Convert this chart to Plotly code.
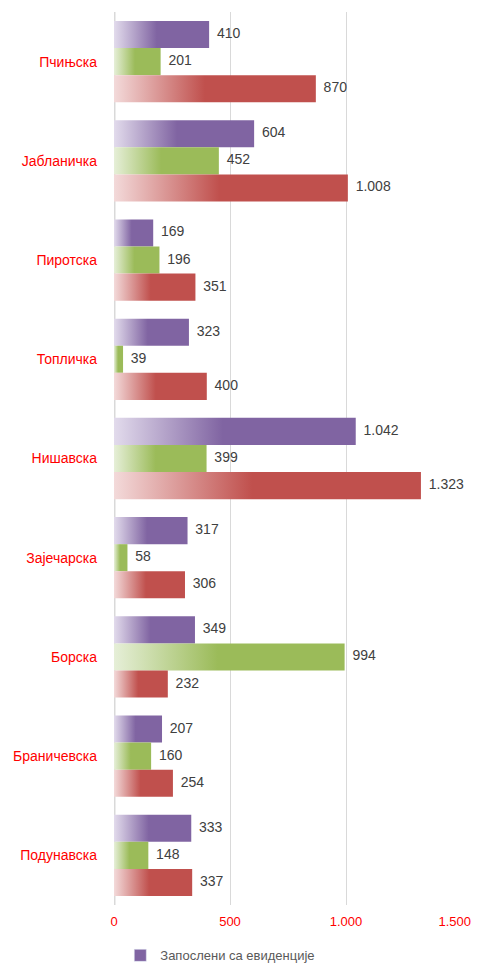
import plotly.graph_objects as go

# categories, top to bottom
regions = ['Пчињска', 'Јабланичка', 'Пиротска', 'Топличка', 'Нишавска',
           'Зајечарска', 'Борска', 'Браничевска', 'Подунавска']

# purple series (the only one named in the legend)
zaposleni_sa_evidencije = [410, 604, 169, 323, 1042, 317, 349, 207, 333]
# green series
serija_2 = [201, 452, 196, 39, 399, 58, 994, 160, 148]
# red series
serija_3 = [870, 1008, 351, 400, 1323, 306, 232, 254, 337]

x_ticks = [0, 500, 1000, 1500]
x_tick_labels = ['0', '500', '1.000', '1.500']

series = [
    ('Запослени са евиденције', zaposleni_sa_evidencije, '#e2dbec', '#8064a2', True),
    ('Серија 2', serija_2, '#e6efd8', '#9bbb59', False),
    ('Серија 3', serija_3, '#f3dada', '#c0504d', False),
]

FONT = 'Liberation Sans, Arial, sans-serif'
bar_h = 0.273
fig = go.Figure()

for k, (name, vals, light, solid, in_legend) in enumerate(series):
    offset = (k - 1) * bar_h
    for i, v in enumerate(vals):
        y0 = i + offset - bar_h / 2
        y1 = i + offset + bar_h / 2
        # each bar as a filled polygon so it can carry a left-to-right gradient
        fig.add_trace(go.Scatter(
            x=[0, v, v, 0, 0], y=[y0, y0, y1, y1, y0],
            mode='lines', fill='toself',
            line=dict(width=0, color=solid),
            fillgradient=dict(type='horizontal',
                              colorscale=[[0, light], [0.45, solid], [1, solid]]),
            showlegend=False, hoverinfo='skip'
        ))
    # value labels
    fig.add_trace(go.Scatter(
        x=vals, y=[i + offset for i in range(len(vals))],
        mode='text', texttemplate='  %{x:,.0f}', textposition='middle right',
        textfont=dict(size=14, color='#404040'), cliponaxis=False,
        showlegend=False, hoverinfo='skip'
    ))
    if in_legend:
        fig.add_trace(go.Bar(x=[None], y=[None], name=name, marker_color=solid,
                             orientation='h', showlegend=True))

# last tick label nudged left (padding) so it stays inside the page
tick_text = x_tick_labels[:-1] + [x_tick_labels[-1] + '\u00a0' * 4]

# page has an 8px body margin, so the figure is a bit smaller than the window
fig.update_layout(
    width=464, height=956,
    margin=dict(l=106, r=10, t=4, b=59, autoexpand=False),
    plot_bgcolor='white', paper_bgcolor='white',
    separators=',.',
    font=dict(family=FONT, size=14),
    legend=dict(orientation='h', xref='container', yref='container',
                x=0.242, xanchor='left', y=0.009, yanchor='middle',
                font=dict(size=13, color='#595959'), itemwidth=30),
    xaxis=dict(range=[0, 1500], tickvals=x_ticks, ticktext=tick_text,
               showgrid=True, gridcolor='#d9d9d9', gridwidth=1, zeroline=False,
               tickfont=dict(color='red', size=13), ticklabelstandoff=7,
               ticklabeloverflow='allow', automargin=False),
    yaxis=dict(range=[8.5, -0.5], tickvals=list(range(len(regions))), ticktext=regions,
               showgrid=False, zeroline=False, automargin=False,
               tickfont=dict(color='red', size=14), ticklabelstandoff=16),
)
fig.add_vline(x=0, line_color='#d9d9d9', line_width=3, layer='below')

fig.write_html('out.html')
